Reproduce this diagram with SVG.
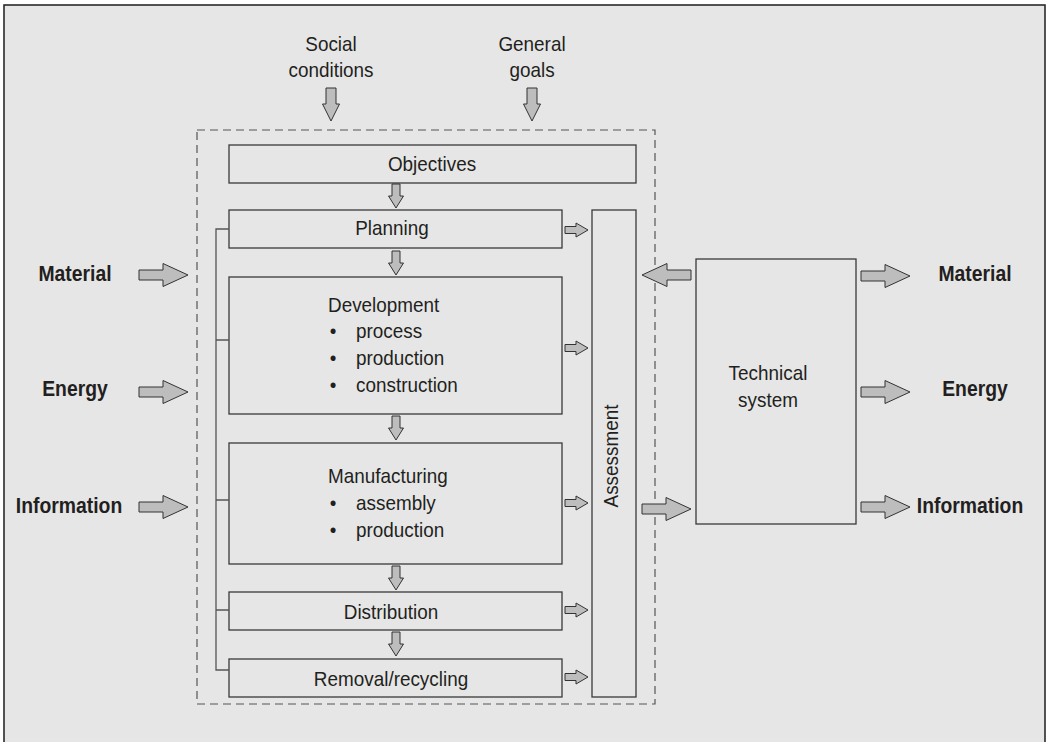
<svg xmlns="http://www.w3.org/2000/svg" width="1046" height="742" viewBox="0 0 1046 742">
<style>
.bg{fill:#e6e6e6;stroke:#2a2a2a;stroke-width:1.6}
.box{fill:#e6e6e6;stroke:#3a3a3a;stroke-width:1.3}
.dash{fill:none;stroke:#555;stroke-width:1.2;stroke-dasharray:8,5}
.ln{fill:none;stroke:#555;stroke-width:1.3}
.arr{fill:#bdbdbd;stroke:#333;stroke-width:1}
.t{font-family:"Liberation Sans",Arial,sans-serif;font-size:21px;fill:#231f20}
.b{font-family:"Liberation Sans",Arial,sans-serif;font-size:22px;font-weight:bold;fill:#231f20}
.m{text-anchor:middle}
</style>
<defs>
<path id="bigR" class="arr" d="M0,-5 H24 V-11.5 L49,0 L24,11.5 V5 H0 Z"/>
<path id="bigL" class="arr" d="M0,-5 H-24 V-11.5 L-49,0 L-24,11.5 V5 H0 Z"/>
<path id="smR" class="arr" d="M0,-3.5 H11 V-7 L23,0 L11,7 V3.5 H0 Z"/>
<path id="smD" class="arr" d="M-4,0 V12 H-7.5 L0,24 L7.5,12 H4 V0 Z"/>
<path id="topD" class="arr" d="M-5,0 V16 H-8.5 L0,33 L8.5,16 H5 V0 Z"/>
</defs>
<rect class="bg" x="4" y="5" width="1041" height="745"/>
<rect class="dash" x="197" y="130" width="458" height="574"/>

<g id="social"><text class="t m" transform="translate(331,51) scale(0.9,1)">Social</text><text class="t m" transform="translate(331,77) scale(0.9,1)">conditions</text></g>
<g id="general"><text class="t m" transform="translate(532,51) scale(0.9,1)">General</text><text class="t m" transform="translate(532,77) scale(0.9,1)">goals</text></g>

<g id="in-material"><text class="b m" transform="translate(75,281) scale(0.88,1)">Material</text></g>
<g id="in-energy"><text class="b m" transform="translate(75,396) scale(0.88,1)">Energy</text></g>
<g id="in-information"><text class="b m" transform="translate(69,513) scale(0.88,1)">Information</text></g>

<g id="objectives"><rect class="box" x="229" y="145" width="407" height="38"/><text class="t m" transform="translate(432,171) scale(0.9,1)">Objectives</text></g>
<g id="planning"><rect class="box" x="229" y="210" width="333" height="38"/><text class="t m" transform="translate(392,235) scale(0.9,1)">Planning</text></g>
<g id="development"><rect class="box" x="229" y="277" width="333" height="137"/>
<text class="t" transform="translate(328,312) scale(0.9,1)">Development</text>
<text class="t m" transform="translate(333,338) scale(0.9,1)">•</text><text class="t" transform="translate(356,338) scale(0.9,1)">process</text>
<text class="t m" transform="translate(333,365) scale(0.9,1)">•</text><text class="t" transform="translate(356,365) scale(0.9,1)">production</text>
<text class="t m" transform="translate(333,392) scale(0.9,1)">•</text><text class="t" transform="translate(356,392) scale(0.9,1)">construction</text></g>
<g id="manufacturing"><rect class="box" x="229" y="443" width="333" height="121"/>
<text class="t" transform="translate(328,483) scale(0.9,1)">Manufacturing</text>
<text class="t m" transform="translate(333,510) scale(0.9,1)">•</text><text class="t" transform="translate(356,510) scale(0.9,1)">assembly</text>
<text class="t m" transform="translate(333,537) scale(0.9,1)">•</text><text class="t" transform="translate(356,537) scale(0.9,1)">production</text></g>
<g id="distribution"><rect class="box" x="229" y="592" width="333" height="38"/><text class="t m" transform="translate(391,619) scale(0.9,1)">Distribution</text></g>
<g id="removal"><rect class="box" x="229" y="659" width="333" height="38"/><text class="t m" transform="translate(391,686) scale(0.9,1)">Removal/recycling</text></g>
<g id="assessment"><rect class="box" x="592" y="210" width="44" height="487"/><text class="t m" transform="translate(618,456) rotate(-90) scale(0.9,1)">Assessment</text></g>
<g id="technical"><rect class="box" x="696" y="259" width="160" height="265"/><text class="t m" transform="translate(768,380) scale(0.9,1)">Technical</text><text class="t m" transform="translate(768,407) scale(0.9,1)">system</text></g>

<g id="out-material"><text class="b m" transform="translate(975,281) scale(0.88,1)">Material</text></g>
<g id="out-energy"><text class="b m" transform="translate(975,396) scale(0.88,1)">Energy</text></g>
<g id="out-information"><text class="b m" transform="translate(970,513) scale(0.88,1)">Information</text></g>

<g id="connectors">
<path class="ln" d="M229,229 H216 V670 H229 M216,340 H229 M216,500 H229 M216,610 H229"/>
<use href="#topD" x="331" y="88"/>
<use href="#topD" x="532" y="88"/>
<use href="#smD" x="396" y="184"/>
<use href="#smD" x="396" y="251"/>
<use href="#smD" x="396" y="416"/>
<use href="#smD" x="396" y="566"/>
<use href="#smD" x="396" y="632"/>
<use href="#smR" x="565" y="230"/>
<use href="#smR" x="565" y="348"/>
<use href="#smR" x="565" y="503"/>
<use href="#smR" x="565" y="610"/>
<use href="#smR" x="565" y="677"/>
<use href="#bigR" x="139" y="275"/>
<use href="#bigR" x="139" y="392"/>
<use href="#bigR" x="139" y="507"/>
<use href="#bigL" x="691" y="275"/>
<use href="#bigR" x="642" y="509"/>
<use href="#bigR" x="861" y="276"/>
<use href="#bigR" x="861" y="392"/>
<use href="#bigR" x="861" y="507"/>
</g>
</svg>
